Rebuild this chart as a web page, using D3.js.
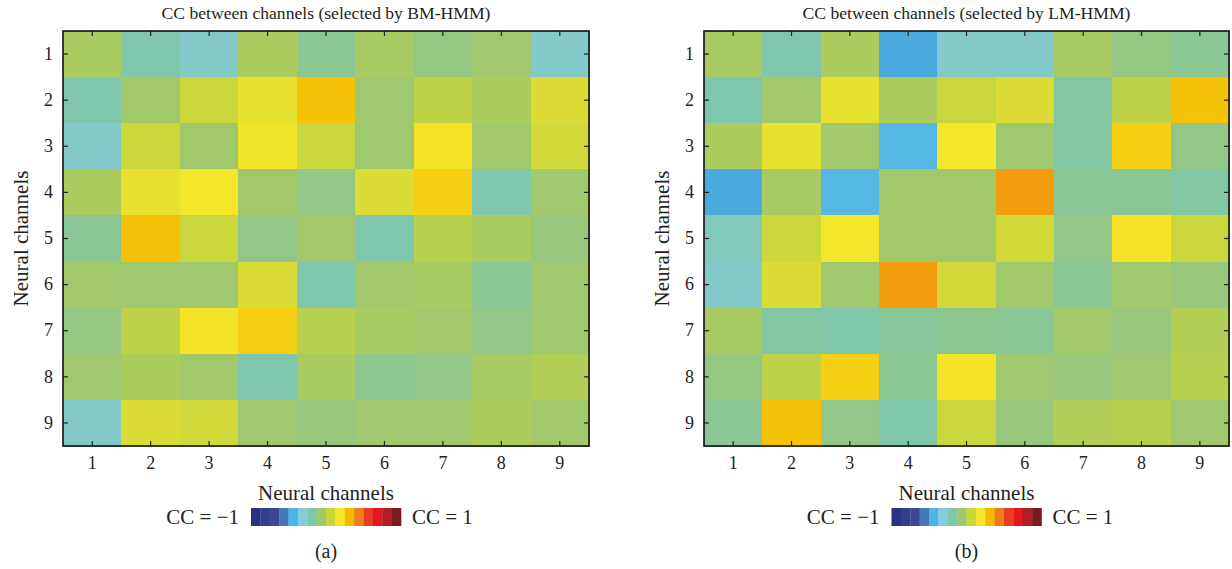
<!DOCTYPE html>
<html lang="en">
<head>
    <meta charset="UTF-8">
    <title>CC between channels</title>
    <script src="https://d3js.org/d3.v7.min.js"></script>
    <style>
        body {
            margin: 0;
            background-color: #fff;
        }
        svg {
            display: block;
        }
        text {
            font-family: "Liberation Serif", "Times New Roman", serif;
            fill: #231f20;
        }
        .tick line {
            stroke: #231f20;
            stroke-width: 1.2px;
        }
    </style>
</head>
<body>
    <svg width="1232" height="569"></svg>
    <script>
        // channel numbers on both axes
        const channels = [1, 2, 3, 4, 5, 6, 7, 8, 9];

        // CC matrix, rows = channel 1..9 (top to bottom)
        const ccBM = [
            [-0.04, -0.21, -0.28, -0.03, -0.16, -0.05, -0.12, -0.08, -0.29],
            [-0.21, -0.07,  0.07,  0.16,  0.31, -0.08,  0.03, -0.03,  0.12],
            [-0.28,  0.08, -0.07,  0.19,  0.07, -0.08,  0.21, -0.07,  0.09],
            [-0.03,  0.16,  0.20, -0.07, -0.13,  0.12,  0.27, -0.21, -0.08],
            [-0.16,  0.31,  0.07, -0.13, -0.07, -0.21,  0.01, -0.04, -0.11],
            [-0.07, -0.08, -0.08,  0.12, -0.21, -0.07, -0.05, -0.16, -0.08],
            [-0.12,  0.03,  0.21,  0.27,  0.01, -0.05, -0.07, -0.13, -0.08],
            [-0.08, -0.03, -0.07, -0.21, -0.04, -0.15, -0.13, -0.05, -0.01],
            [-0.29,  0.12,  0.09, -0.08, -0.11, -0.08, -0.08, -0.03, -0.07]
        ];

        const ccLM = [
            [-0.05, -0.21, -0.03, -0.49, -0.28, -0.29, -0.05, -0.12, -0.16],
            [-0.21, -0.07,  0.16, -0.03,  0.07,  0.12, -0.19,  0.03,  0.31],
            [-0.03,  0.16, -0.07, -0.44,  0.20, -0.08, -0.19,  0.27, -0.13],
            [-0.49, -0.05, -0.44, -0.07, -0.07,  0.40, -0.16, -0.16, -0.19],
            [-0.25,  0.08,  0.20, -0.07, -0.07,  0.09, -0.13,  0.21,  0.07],
            [-0.29,  0.12, -0.08,  0.40,  0.09, -0.07, -0.16, -0.08, -0.11],
            [-0.05, -0.19, -0.20, -0.17, -0.15, -0.16, -0.07, -0.11, -0.01],
            [-0.12,  0.03,  0.27, -0.16,  0.21, -0.08, -0.11, -0.08,  0.01],
            [-0.16,  0.31, -0.13, -0.20,  0.07, -0.11, -0.01,  0.01, -0.08]
        ];

        // colormap, CC = -1 ... CC = 1
        const cmap = ["#2b3186", "#353d8f", "#3c4896", "#4375b8", "#4bb5e6", "#84cbdb",
                      "#80c6a8", "#a2c869", "#c8d63c", "#f4e62a", "#f6ba00", "#ef7e1a",
                      "#e63e22", "#e21a20", "#b11d24", "#7d1a1c"];

        const panels = [
            {title: "CC between channels (selected by BM-HMM)", data: ccBM, tag: "(a)", x0: 63, x1: 589},
            {title: "CC between channels (selected by LM-HMM)", data: ccLM, tag: "(b)", x0: 704, x1: 1229}
        ];

        const svg = d3.select("svg");
        const plotTop = 31, plotBottom = 446;

        const color = d3.scaleLinear()
            .domain(cmap.map((c, i) => -1 + i * 2 / (cmap.length - 1)))
            .range(cmap)
            .clamp(true);

        panels.forEach(p => {
            const g = svg.append("g");
            const cx = (p.x0 + p.x1) / 2;

            const x = d3.scaleBand().domain(channels).range([p.x0, p.x1]);
            const y = d3.scaleBand().domain(channels).range([plotTop, plotBottom]);

            const cells = [];
            p.data.forEach((row, i) => row.forEach((v, j) => cells.push({r: channels[i], c: channels[j], v: v})));

            g.append("g")
                .selectAll("rect")
                .data(cells)
                .enter().append("rect")
                .attr("x", d => x(d.c))
                .attr("y", d => y(d.r))
                .attr("width", x.bandwidth() + 0.5)
                .attr("height", y.bandwidth() + 0.5)
                .attr("fill", d => color(d.v))
                .attr("shape-rendering", "crispEdges");

            // inward ticks on all four sides
            g.append("g")
                .attr("transform", `translate(0,${plotBottom})`)
                .call(d3.axisBottom(x).tickSize(-5).tickPadding(10));
            g.append("g")
                .attr("transform", `translate(${p.x0},0)`)
                .call(d3.axisLeft(y).tickSize(-5).tickPadding(10));
            g.append("g")
                .attr("transform", `translate(0,${plotTop})`)
                .call(d3.axisTop(x).tickSize(-5).tickFormat(""));
            g.append("g")
                .attr("transform", `translate(${p.x1},0)`)
                .call(d3.axisRight(y).tickSize(-5).tickFormat(""));

            g.selectAll(".domain").remove();
            g.selectAll(".tick text")
                .attr("fill", "#231f20")
                .style("font-size", "18px")
                .style("font-family", "'Liberation Serif', serif");

            g.append("rect")
                .attr("x", p.x0)
                .attr("y", plotTop)
                .attr("width", p.x1 - p.x0)
                .attr("height", plotBottom - plotTop)
                .attr("fill", "none")
                .attr("stroke", "#111")
                .attr("stroke-width", 1.6);

            g.append("text")
                .attr("x", cx)
                .attr("y", 19)
                .attr("text-anchor", "middle")
                .style("font-size", "17.6px")
                .text(p.title);

            g.append("text")
                .attr("x", cx)
                .attr("y", 500)
                .attr("text-anchor", "middle")
                .style("font-size", "21px")
                .text("Neural channels");

            g.append("text")
                .attr("transform", `translate(${p.x0 - 35},${(plotTop + plotBottom) / 2}) rotate(-90)`)
                .attr("text-anchor", "middle")
                .style("font-size", "21px")
                .text("Neural channels");

            // colour bar
            const cb = d3.scaleBand().domain(d3.range(cmap.length)).range([cx - 75, cx + 75]);
            g.append("g")
                .selectAll("rect")
                .data(cmap)
                .enter().append("rect")
                .attr("x", (d, i) => cb(i))
                .attr("y", 508)
                .attr("width", cb.bandwidth() + 0.3)
                .attr("height", 18)
                .attr("fill", d => d);

            g.append("text")
                .attr("x", cx - 87)
                .attr("y", 524)
                .attr("text-anchor", "end")
                .style("font-size", "21px")
                .text("CC = \u22121");

            g.append("text")
                .attr("x", cx + 86)
                .attr("y", 524)
                .attr("text-anchor", "start")
                .style("font-size", "21px")
                .text("CC = 1");

            g.append("text")
                .attr("x", cx)
                .attr("y", 558)
                .attr("text-anchor", "middle")
                .style("font-size", "20px")
                .text(p.tag);
        });
    </script>
</body>
</html>
